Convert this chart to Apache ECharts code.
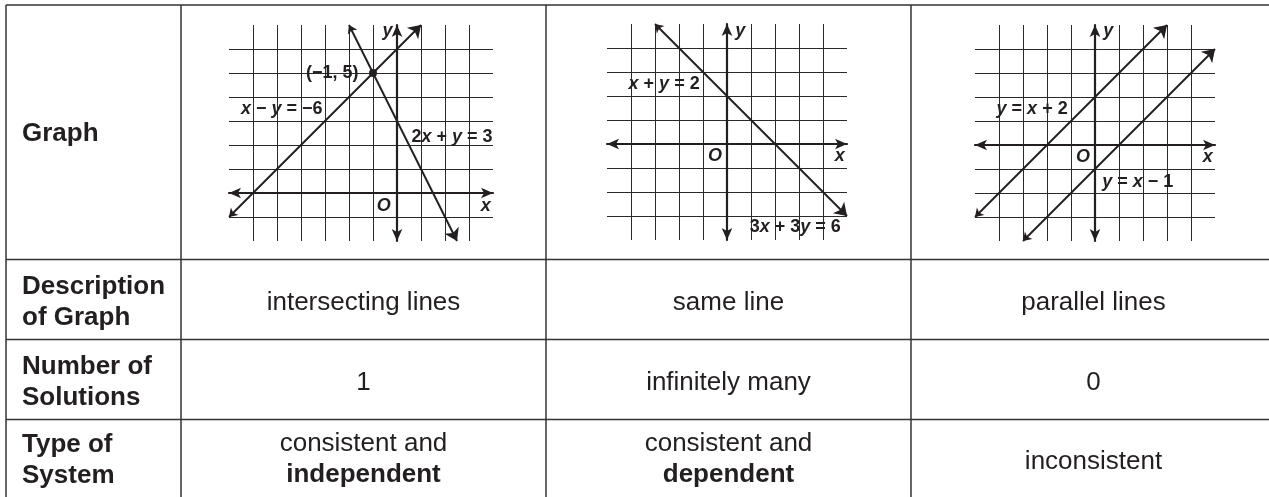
<!DOCTYPE html>
<html>
<head>
<meta charset="utf-8">
<script src="https://cdn.jsdelivr.net/npm/echarts@6/dist/echarts.min.js"></script>
<style>
  html, body { margin: 0; padding: 0; background: #fff; }
  #chart { width: 1269px; height: 497px; }
</style>
</head>
<body>
<div id="chart"></div>
<script>
// table texts
const rowLabels = ['Graph', 'Description\nof Graph', 'Number of\nSolutions', 'Type of\nSystem'];
const descriptions = ['intersecting lines', 'same line', 'parallel lines'];
const solutionCounts = ['1', 'infinitely many', '0'];
const systemTypes = [['consistent and', 'independent'], ['consistent and', 'dependent'], ['inconsistent', '']];

// graph 1: x - y = -6 and 2x + y = 3
const g1XRange = [-7, 4];
const g1YRange = [-2, 7];
const g1Lines = [[[-7, -1], [1, 7]], [[-2, 7], [2.5, -2]]];
const g1Points = [[-1, 5]];
const g1Labels = [
  [-1.6, 5, '(−1, 5)', 'right'],
  [-6.5, 3.5, '{i|x} − {i|y} = −6', 'left'],
  [0.6, 2.35, '2{i|x} + {i|y} = 3', 'left'],
  [-0.55, -0.55, '{i|O}', 'center'],
  [3.7, -0.55, '{i|x}', 'center'],
  [-0.4, 6.75, '{i|y}', 'center']
];

// graph 2: x + y = 2 and 3x + 3y = 6 (same line)
const g2XRange = [-5, 5];
const g2YRange = [-4, 5];
const g2Lines = [[[-3, 5], [5, -3]]];
const g2Points = [];
const g2Labels = [
  [-4.1, 2.5, '{i|x} + {i|y} = 2', 'left'],
  [0.95, -3.45, '3{i|x} + 3{i|y} = 6', 'left'],
  [-0.5, -0.5, '{i|O}', 'center'],
  [4.7, -0.5, '{i|x}', 'center'],
  [0.55, 4.7, '{i|y}', 'center']
];

// graph 3: y = x + 2 and y = x - 1
const g3XRange = [-5, 5];
const g3YRange = [-4, 5];
const g3Lines = [[[-5, -3], [3, 5]], [[-3, -4], [5, 4]]];
const g3Points = [];
const g3Labels = [
  [-4.1, 1.5, '{i|y} = {i|x} + 2', 'left'],
  [0.3, -1.55, '{i|y} = {i|x} − 1', 'left'],
  [-0.5, -0.5, '{i|O}', 'center'],
  [4.7, -0.5, '{i|x}', 'center'],
  [0.55, 4.73, '{i|y}', 'center']
];

const BLACK = '#231f20';
const RULE = '#333';
const UNIT = 24; // px per grid square
const tableFont = '"Liberation Sans", Helvetica, Arial, sans-serif';
const eqFont = '"Liberation Sans", Helvetica, Arial, sans-serif';

const graphs = [
  { x: g1XRange, y: g1YRange, lines: g1Lines, points: g1Points, labels: g1Labels, left: 229, top: 25 },
  { x: g2XRange, y: g2YRange, lines: g2Lines, points: g2Points, labels: g2Labels, left: 607, top: 24 },
  { x: g3XRange, y: g3YRange, lines: g3Lines, points: g3Points, labels: g3Labels, left: 975, top: 25 }
];

function axis(i, range) {
  return {
    gridIndex: i,
    type: 'value',
    min: range[0],
    max: range[1],
    interval: 1,
    axisLine: {
      onZero: true,
      symbol: ['arrow', 'arrow'],
      symbolSize: [8, 12],
      lineStyle: { color: BLACK, width: 2.2 }
    },
    axisTick: { show: false },
    axisLabel: { show: false },
    splitLine: {
      show: true,
      showMinLine: false,
      showMaxLine: false,
      lineStyle: { color: '#2a2a2a', width: 1 }
    }
  };
}

const series = [];
graphs.forEach((g, i) => {
  series.push({
    type: 'lines',
    coordinateSystem: 'cartesian2d',
    xAxisIndex: i,
    yAxisIndex: i,
    silent: true,
    symbol: ['arrow', 'arrow'],
    symbolSize: [8, 12],
    lineStyle: { color: BLACK, width: 2, opacity: 1, curveness: 0 },
    data: g.lines.map(c => ({ coords: c }))
  });
  if (g.points.length) {
    series.push({
      type: 'scatter',
      xAxisIndex: i,
      yAxisIndex: i,
      silent: true,
      symbolSize: 8,
      itemStyle: { color: BLACK, opacity: 1 },
      data: g.points
    });
  }
  series.push({
    type: 'scatter',
    xAxisIndex: i,
    yAxisIndex: i,
    silent: true,
    symbolSize: 0,
    z: 5,
    itemStyle: { opacity: 1, color: BLACK },
    label: {
      show: true,
      position: 'inside',
      verticalAlign: 'middle',
      fontFamily: eqFont,
      fontWeight: 'bold',
      fontSize: 18,
      color: BLACK,
      opacity: 1,
      textBorderWidth: 0,
      formatter: p => p.name,
      rich: {
        i: { fontFamily: eqFont, fontWeight: 'bold', fontStyle: 'italic', fontSize: 18, color: BLACK, textBorderWidth: 0 }
      }
    },
    data: g.labels.map(l => ({ name: l[2], value: [l[0], l[1]], label: { align: l[3] } }))
  });
});

// table rules
const colX = [6, 181, 546, 911];
const rowY = [5, 259.5, 339.5, 419.5];
const rowMid = [132, 302, 382, 460];
const colMid = [363.5, 728.5, 1093.5];

const graphic = [];
rowY.forEach(y => graphic.push({
  type: 'line', silent: true,
  shape: { x1: colX[0], y1: y, x2: 1269, y2: y },
  style: { stroke: RULE, lineWidth: 1.5 }
}));
colX.forEach(x => graphic.push({
  type: 'line', silent: true,
  shape: { x1: x, y1: rowY[0], x2: x, y2: 497 },
  style: { stroke: RULE, lineWidth: 1.5 }
}));

function cellText(x, y, text, align, rich) {
  return {
    type: 'text', silent: true, x: x, y: y,
    style: {
      text: text,
      fill: BLACK,
      fontFamily: tableFont,
      fontSize: 26,
      fontWeight: align === 'left' ? 'bold' : 'normal',
      lineHeight: 31,
      align: align, textAlign: align,
      verticalAlign: 'middle', textVerticalAlign: 'middle',
      rich: rich
    }
  };
}

rowLabels.forEach((t, r) => graphic.push(cellText(22, rowMid[r] + (r === 0 ? 2 : 0), t, 'left')));
descriptions.forEach((t, c) => graphic.push(cellText(colMid[c], rowMid[1] + 1, t, 'center')));
solutionCounts.forEach((t, c) => graphic.push(cellText(colMid[c], rowMid[2] + 1, t, 'center')));
const typeRich = {
  r: { fontFamily: tableFont, fontSize: 26, fontWeight: 'normal', lineHeight: 31, fill: BLACK, color: BLACK },
  b: { fontFamily: tableFont, fontSize: 26, fontWeight: 'bold', lineHeight: 31, fill: BLACK, color: BLACK }
};
systemTypes.forEach((t, c) => {
  const txt = t[1] ? '{r|' + t[0] + '}\n{b|' + t[1] + '}' : '{r|' + t[0] + '}';
  graphic.push(cellText(colMid[c], t[1] ? rowMid[3] - 1 : rowMid[3] + 2, txt, 'center', typeRich));
});

const chart = echarts.init(document.getElementById('chart'), null, { renderer: 'canvas' });
chart.setOption({
  animation: false,
  backgroundColor: '#fff',
  grid: graphs.map(g => ({
    left: g.left,
    top: g.top,
    width: (g.x[1] - g.x[0]) * UNIT,
    height: (g.y[1] - g.y[0]) * UNIT
  })),
  xAxis: graphs.map((g, i) => axis(i, g.x)),
  yAxis: graphs.map((g, i) => axis(i, g.y)),
  series: series,
  graphic: graphic
});
</script>
</body>
</html>
